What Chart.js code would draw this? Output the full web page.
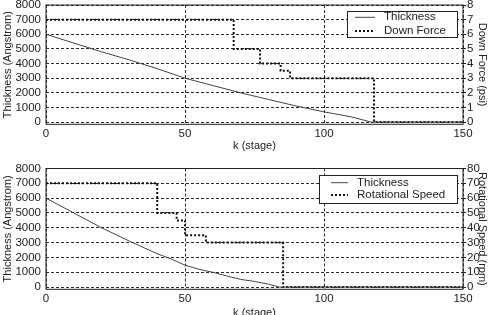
<!DOCTYPE html>
<html>
<head>
<meta charset="utf-8">
<script src="https://cdn.jsdelivr.net/npm/chart.js@4"></script>
<style>
    html, body { margin: 0; padding: 0; background: #fff; overflow: hidden; }
    #wrap { position: relative; width: 495px; height: 315px; overflow: hidden; }
    canvas { position: absolute; left: 0; }
    #chartTop { top: 0; }
    #chartBottom { top: 157px; }
</style>
</head>
<body>
<div id="wrap">
    <canvas id="chartTop" width="495" height="157"></canvas>
    <canvas id="chartBottom" width="495" height="170"></canvas>
</div>
<script>
// ticks
const kTicks = [0, 50, 100, 150];
const thickTicks = [0, 1000, 2000, 3000, 4000, 5000, 6000, 7000, 8000];
const forceTicks = [0, 1, 2, 3, 4, 5, 6, 7, 8];
const speedTicks = [0, 10, 20, 30, 40, 50, 60, 70, 80];

// top chart: thickness vs down force
const thickK1 = [0, 10, 20, 30, 40, 50, 60, 70, 80, 90, 100, 110, 117, 150];
const thick1 = [6000, 5400, 4800, 4250, 3650, 3000, 2500, 2000, 1550, 1100, 700, 350, 0, 0];
const forceK = [0, 67.5, 77, 84.4, 87.8, 118, 150];
const force = [7, 5, 4, 3.5, 3, 0, 0];

// bottom chart: thickness vs rotational speed
const thickK2 = [0, 10, 20, 30, 40, 45, 50, 55, 60, 65, 70, 75, 80, 84, 150];
const thick2 = [6000, 5000, 4000, 3100, 2250, 1900, 1480, 1200, 1000, 750, 520, 380, 200, 0, 0];
const speedK = [0, 40, 47, 50, 57.5, 85.3, 150];
const speed = [70, 50, 45, 35, 30, 0, 0];

const txt = '#222';
const gridCol = '#2a2a2a';
const fnt = { family: '"Liberation Sans", Arial, sans-serif', size: 11.5 };
const titleFnt = { family: '"Liberation Sans", Arial, sans-serif', size: 11 };

function toXY(ks, vs) {
    return ks.map((k, i) => ({ x: k, y: vs[i] }));
}

// frame round the plot area
const framePlugin = {
    id: 'frame',
    afterDatasetsDraw(chart) {
        const { ctx, chartArea: a } = chart;
        ctx.save();
        ctx.strokeStyle = '#222';
        ctx.lineWidth = 1;
        ctx.strokeRect(a.left, a.top, a.right - a.left, a.bottom - a.top);
        ctx.restore();
    }
};

// boxed legend inside the plot
const boxLegend = {
    id: 'boxLegend',
    afterDraw(chart, args, o) {
        const ctx = chart.ctx;
        ctx.save();
        ctx.fillStyle = '#fff';
        ctx.fillRect(o.x, o.y, o.w, o.h);
        ctx.strokeStyle = '#222';
        ctx.lineWidth = 1;
        ctx.strokeRect(o.x + 0.5, o.y + 0.5, o.w, o.h);
        chart.data.datasets.forEach((ds, i) => {
            const ry = o.y + o.rows[i];
            ctx.beginPath();
            ctx.setLineDash(ds.borderDash || []);
            ctx.lineWidth = ds.borderWidth;
            ctx.strokeStyle = ds.borderColor;
            ctx.moveTo(o.lineX, ry);
            ctx.lineTo(o.lineX + o.lineW, ry);
            ctx.stroke();
            ctx.setLineDash([]);
            ctx.fillStyle = txt;
            ctx.font = fnt.size + 'px ' + fnt.family;
            ctx.textBaseline = 'middle';
            ctx.fillText(ds.label, o.textX, ry);
        });
        ctx.restore();
    }
};

function crearGrafico(id, s) {
    const ctx = document.getElementById(id).getContext('2d');
    return new Chart(ctx, {
        type: 'line',
        data: {
            datasets: [{
                label: 'Thickness',
                data: toXY(s.thickK, s.thick),
                yAxisID: 'y',
                borderColor: '#444',
                borderWidth: 1,
                pointRadius: 0,
                tension: 0
            }, {
                label: s.stepLabel,
                data: toXY(s.stepK, s.step),
                yAxisID: 'y2',
                borderColor: '#111',
                borderWidth: 2,
                borderDash: [2, 2],
                pointRadius: 0,
                stepped: true
            }]
        },
        options: {
            responsive: false,
            animation: false,
            events: [],
            layout: { padding: { top: s.padTop, left: 0, right: 0, bottom: 0 } },
            plugins: {
                legend: { display: false },
                tooltip: { enabled: false },
                boxLegend: s.legend
            },
            scales: {
                x: {
                    type: 'linear',
                    min: 0,
                    max: 150,
                    afterBuildTicks: sc => { sc.ticks = kTicks.map(v => ({ value: v })); },
                    afterFit: sc => { sc.height = s.xHeight; sc.paddingLeft = 0; sc.paddingRight = 0; },
                    grid: { color: gridCol, drawTicks: false },
                    border: { display: false, dash: [3, 2] },
                    ticks: { padding: 3, font: fnt, color: txt, maxRotation: 0, autoSkip: false, callback: v => String(v) },
                    title: { display: true, text: 'k (stage)', font: titleFnt, color: txt, padding: { top: 0, bottom: s.xTitlePad } }
                },
                y: {
                    position: 'left',
                    min: -150,
                    max: 8000,
                    afterBuildTicks: sc => { sc.ticks = thickTicks.map(v => ({ value: v })); },
                    afterFit: sc => { sc.width = 46; sc.paddingTop = 0; sc.paddingBottom = 0; },
                    grid: { color: gridCol, drawTicks: false },
                    border: { display: false, dash: [3, 2] },
                    ticks: { padding: 5, font: fnt, color: txt, autoSkip: false, callback: v => String(v) },
                    title: { display: true, text: 'Thickness (Angstrom)', font: titleFnt, color: txt, padding: { top: 1, bottom: 0 } }
                },
                y2: {
                    position: 'right',
                    min: s.rightMin,
                    max: s.rightMax,
                    afterBuildTicks: sc => { sc.ticks = s.rightTicks.map(v => ({ value: v })); },
                    afterFit: sc => { sc.width = 32; sc.paddingTop = 0; sc.paddingBottom = 0; },
                    grid: { drawOnChartArea: false, tickLength: 3, color: '#222' },
                    border: { display: false },
                    ticks: { padding: 1, font: fnt, color: txt, autoSkip: false, callback: v => String(v) },
                    title: { display: true, text: s.rightTitle, font: titleFnt, color: txt, padding: { top: 6.5, bottom: 0 } }
                }
            }
        },
        plugins: [framePlugin, boxLegend]
    });
}

crearGrafico('chartTop', {
    thickK: thickK1, thick: thick1,
    stepK: forceK, step: force, stepLabel: 'Down Force',
    rightTicks: forceTicks, rightMin: -0.15, rightMax: 8,
    rightTitle: 'Down Force (psi)',
    padTop: 5, xHeight: 32.7, xTitlePad: 4.4,
    legend: { x: 347, y: 11, w: 110, h: 26, rows: [6.3, 20], lineX: 355, lineW: 20, textX: 384 }
});

crearGrafico('chartBottom', {
    thickK: thickK2, thick: thick2,
    stepK: speedK, step: speed, stepLabel: 'Rotational Speed',
    rightTicks: speedTicks, rightMin: -1.5, rightMax: 80,
    rightTitle: 'Rotational Speed (rpm)',
    padTop: 11.5, xHeight: 37.7, xTitlePad: 7.8,
    legend: { x: 319, y: 18, w: 138, h: 28, rows: [7.7, 20], lineX: 331, lineW: 17, textX: 357 }
});
</script>
</body>
</html>
